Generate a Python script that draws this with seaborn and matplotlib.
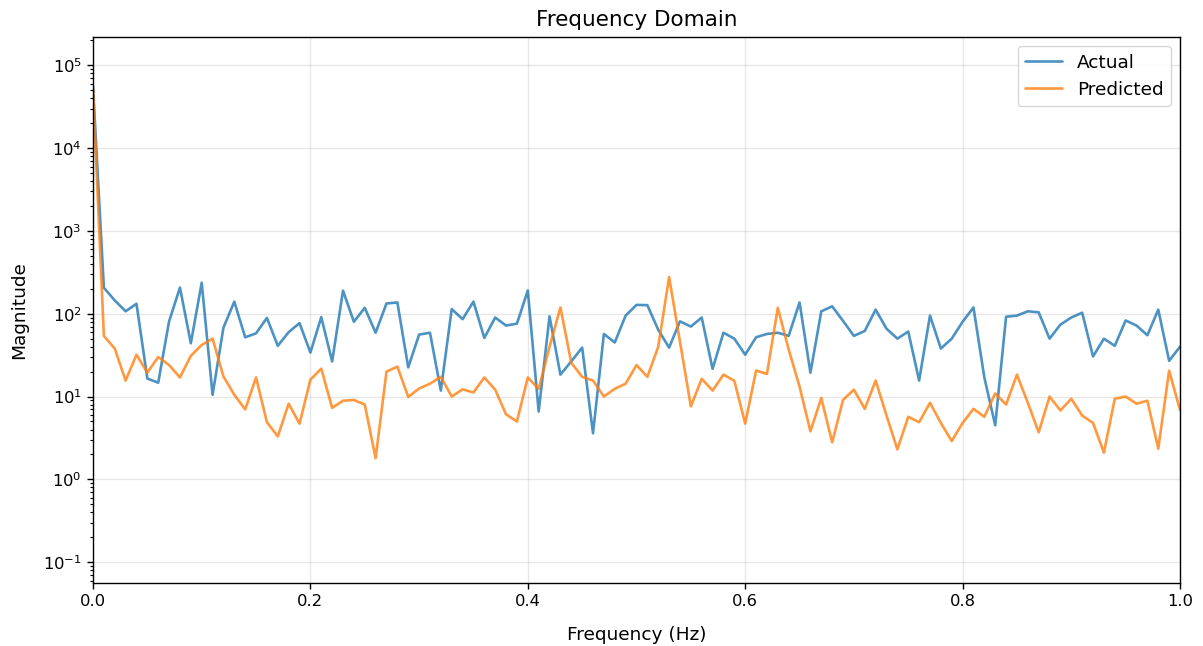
import numpy as np
import pandas as pd
import matplotlib
matplotlib.use("Agg")
import matplotlib.pyplot as plt
import seaborn as sns

freq = [round(i * 0.01, 2) for i in range(101)]

actual = [5.6e4, 206, 145, 107, 132, 16.5, 14.7, 81, 207, 44,
          237, 10.5, 68, 140, 52, 58, 89, 41, 60, 77,
          34, 91, 26.5, 190, 80, 118, 59, 133, 137, 22.5,
          56, 59, 11.8, 114, 86, 140, 51, 90, 72, 76,
          191, 6.6, 93, 18.4, 26.6, 39, 3.6, 57, 45, 95,
          128, 127, 64, 39, 81, 70, 90, 21.6, 59, 50,
          32, 52, 57, 59, 54, 137, 19.4, 107, 123, 82,
          54, 62, 112, 66, 50, 61, 15.6, 95, 38, 50,
          80, 119, 17, 4.5, 92, 95, 107, 104, 50, 74,
          90, 103, 30.5, 50, 41, 83, 72, 55, 112, 27,
          40]

predicted = [5.2e4, 54, 38, 15.6, 32, 19.5, 30, 24, 17, 31,
             42, 50, 17.5, 10.5, 7, 17, 4.9, 3.3, 8.2, 4.7,
             16, 21.7, 7.3, 8.9, 9.1, 8, 1.8, 20, 23, 9.9,
             12.5, 14.3, 17.3, 10, 12.2, 11.2, 17, 12.1, 6.1, 5.0,
             17, 12.4, 40, 119, 25.6, 17.3, 15.6, 10.0, 12.4, 14.3,
             24, 17.3, 40, 277, 46, 7.6, 16.4, 11.8, 18.4, 15.5,
             4.7, 20.6, 18.8, 118, 37, 13.2, 3.8, 9.6, 2.8, 9.1,
             12.1, 7.1, 15.6, 5.9, 2.3, 5.7, 4.9, 8.4, 4.8, 2.9,
             4.8, 7.1, 5.7, 10.9, 8, 18.4, 8.4, 3.7, 10, 6.8,
             9.4, 5.9, 4.8, 2.1, 9.4, 10, 8.2, 8.9, 2.35, 20.5,
             6.9]

df = pd.DataFrame({
    "Frequency": freq * 2,
    "Magnitude": actual + predicted,
    "Series": ["Actual"] * len(freq) + ["Predicted"] * len(freq),
})

sns.set_style("white")
plt.rcParams["font.family"] = ["DejaVu Sans"]
plt.rcParams["text.color"] = "black"
plt.rcParams["axes.labelcolor"] = "black"
plt.rcParams["xtick.color"] = "black"
plt.rcParams["ytick.color"] = "black"

fig = plt.figure(figsize=(12.03, 6.46), dpi=100)
ax = fig.add_axes([93 / 1203, 1 - 583 / 646, (1180 - 93) / 1203, (583 - 37) / 646])

sns.lineplot(data=df, x="Frequency", y="Magnitude", hue="Series",
             palette=["#1f77b4", "#ff7f0e"], alpha=0.8, linewidth=1.9,
             ax=ax, estimator=None)

ax.set_yscale("log")
ax.set_xlim(0, 1)
ax.set_ylim(0.056, 2.2e5)
ax.grid(True, color="#b0b0b0", alpha=0.3, linewidth=1.0)
for s in ax.spines.values():
    s.set_color("black")
    s.set_linewidth(1.0)
ax.tick_params(axis="both", which="major", labelsize=11.8, length=4.5,
               width=1.0, direction="out", bottom=True, left=True,
               color="black", labelcolor="black")
ax.tick_params(axis="y", which="minor", length=2.5, width=0.8, left=True, color="black")
ax.set_title("Frequency Domain", fontsize=15.5, pad=8, color="black")
ax.set_xlabel("Frequency (Hz)", fontsize=13.3, labelpad=12, color="black")
ax.set_ylabel("Magnitude", fontsize=13.3, labelpad=11, color="black")
leg = ax.legend(loc="upper right", fontsize=13.3, frameon=True, title=None)
leg.get_frame().set_edgecolor("#cccccc")
for t in leg.get_texts():
    t.set_color("black")
for line in leg.get_lines():
    line.set_linewidth(1.9)

fig.savefig("out.png", dpi=100)
